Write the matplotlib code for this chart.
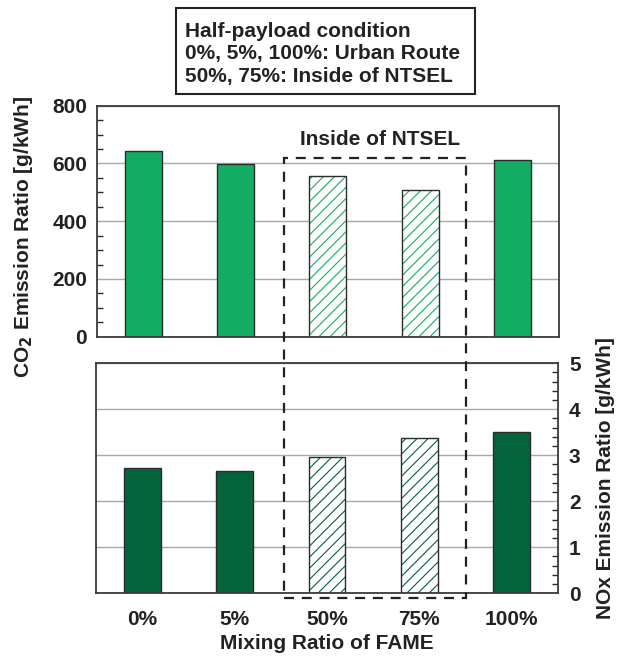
import numpy as np
import matplotlib
matplotlib.use("Agg")
import matplotlib.pyplot as plt
from matplotlib.patches import Rectangle
from matplotlib.ticker import MultipleLocator
from matplotlib.transforms import blended_transform_factory

# FAME mixing ratios and measured emission ratios
mixing = ["0%", "5%", "50%", "75%", "100%"]
co2 = [642, 597, 557, 507, 611]          # g/kWh
nox = [2.72, 2.65, 2.97, 3.38, 3.51]     # g/kWh
inside_ntsel = [False, False, True, True, False]

co2_color = "#12ad62"
nox_color = "#03633a"
edge = "#2b2b2b"
txt = "#222222"

plt.rcParams["font.family"] = ["Liberation Sans", "DejaVu Sans"]
plt.rcParams["font.weight"] = "bold"
plt.rcParams["font.size"] = 15
plt.rcParams["hatch.linewidth"] = 0.8

fig = plt.figure(figsize=(6.24, 6.57), dpi=100)
ax1 = fig.add_axes([0.1554, 0.4875, 0.740, 0.3516])
ax2 = fig.add_axes([0.1540, 0.0970, 0.740, 0.3501])

x = np.arange(len(mixing))
w = 0.40


def draw_bars(ax, vals, color):
    for xi, v, hatched in zip(x, vals, inside_ntsel):
        if hatched:
            ax.bar(xi, v, w, color="white", edgecolor=color, hatch="///",
                   linewidth=0, zorder=2)
            ax.bar(xi, v, w, fill=False, edgecolor=edge, linewidth=1.0, zorder=3)
        else:
            ax.bar(xi, v, w, color=color, edgecolor=edge, linewidth=1.0, zorder=2)


draw_bars(ax1, co2, co2_color)
draw_bars(ax2, nox, nox_color)

# top panel: CO2
ax1.set_xlim(-0.5, 4.5)
ax1.set_ylim(0, 800)
ax1.yaxis.set_major_locator(MultipleLocator(200))
ax1.yaxis.set_minor_locator(MultipleLocator(50))
ax1.set_xticks([])
ax1.tick_params(axis="y", which="major", length=0, pad=7, colors=txt)
ax1.tick_params(axis="y", which="minor", direction="in", length=4, width=1, color=edge)
ax1.grid(axis="y", color="#a8a8a8", linewidth=1, zorder=0)
ax1.set_ylabel("CO$_2$ Emission Ratio [g/kWh]", fontweight="bold", color=txt)
ax1.yaxis.set_label_coords(-0.135, 0.43)

# bottom panel: NOx
ax2.set_xlim(-0.5, 4.5)
ax2.set_ylim(0, 5)
ax2.yaxis.tick_right()
ax2.yaxis.set_label_position("right")
ax2.yaxis.set_major_locator(MultipleLocator(1))
ax2.yaxis.set_minor_locator(MultipleLocator(0.2))
ax2.tick_params(axis="y", which="major", length=0, pad=8, colors=txt)
ax2.tick_params(axis="y", which="minor", direction="in", length=4, width=1, color=edge)
ax2.set_xticks(x)
ax2.set_xticklabels(mixing, color=txt)
ax2.tick_params(axis="x", length=0, pad=12)
ax2.grid(axis="y", color="#a8a8a8", linewidth=1, zorder=0)
ax2.set_ylabel("NOx Emission Ratio [g/kWh]", fontweight="bold", color=txt,
               rotation=90)
ax2.yaxis.set_label_coords(1.083, 0.5)
ax2.set_xlabel("Mixing Ratio of FAME", fontweight="bold", color=txt, labelpad=4)

for ax in (ax1, ax2):
    for s in ax.spines.values():
        s.set_color("#3a3a3a")
        s.set_linewidth(1.3)
        s.set_zorder(4)

# dashed frame around the NTSEL runs, spanning both panels
trans = blended_transform_factory(ax1.transData, fig.transFigure)
frame = Rectangle((1.52, 0.0893), 3.50 - 1.52, 0.760 - 0.0893, transform=trans,
                  fill=False, edgecolor=txt, linewidth=1.6, linestyle=(0, (4.5, 3.5)),
                  clip_on=False, zorder=5)
fig.add_artist(frame)
fig.text(0.609, 0.788, "Inside of NTSEL", ha="center", va="center",
         fontweight="bold", color=txt)

# condition box
fig.text(0.296, 0.918,
         "Half-payload condition\n0%, 5%, 100%: Urban Route\n50%, 75%: Inside of NTSEL",
         ha="left", va="center", fontweight="bold", color=txt, linespacing=1.22)
fig.add_artist(Rectangle((0.282, 0.857), 0.479, 0.131, transform=fig.transFigure,
                         fill=False, edgecolor=txt, linewidth=1.5))

fig.savefig("out.png", dpi=100)
